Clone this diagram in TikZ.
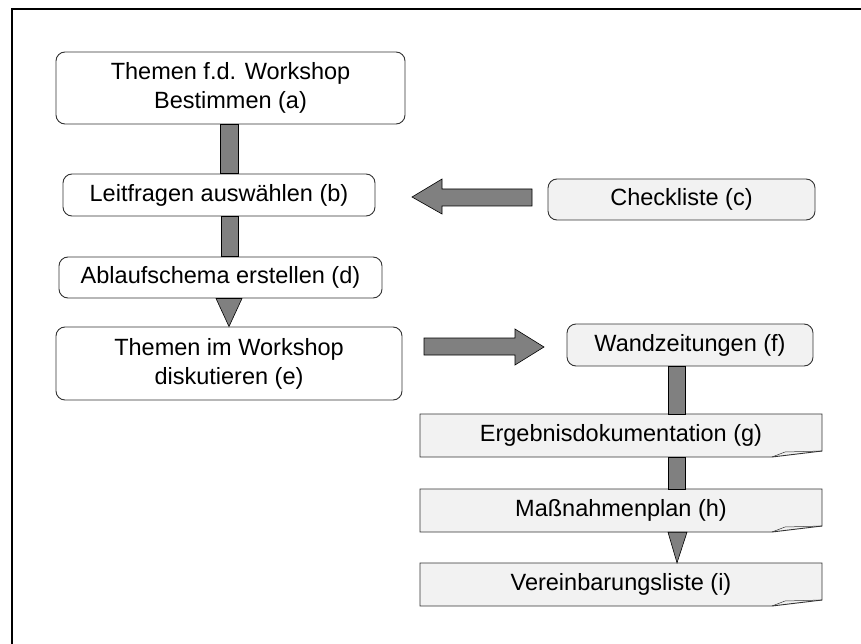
\documentclass[tikz,border=0pt]{standalone}
\usepackage{fontspec}
\setmainfont{Liberation Sans}
\usetikzlibrary{calc}
\definecolor{bargray}{HTML}{808080}
\definecolor{lightfill}{HTML}{F2F2F2}
\definecolor{edgecol}{HTML}{333333}
\newcommand{\boxfont}{\fontsize{23.5}{29}\selectfont}
\begin{document}
\begin{tikzpicture}[x=1pt,y=-1pt,
  roundbox/.style={draw=edgecol, line width=0.9pt, rounded corners=9pt, align=center, inner sep=0pt, font=\boxfont},
  whitebox/.style={roundbox, fill=white},
  greybox/.style={roundbox, fill=lightfill},
  docbox/.style={inner sep=0pt, font=\boxfont, minimum width=402pt, minimum height=43pt},
  docshape/.style={draw=edgecol, line width=0.9pt, fill=lightfill},
  barstyle/.style={draw=black, line width=0.6pt, fill=bargray},
  framestyle/.style={draw=black, line width=2pt}
]
\useasboundingbox (0,0) rectangle (861,644);
% frame (only top and left edges visible)
\coordinate (fbl) at (12,645);
\coordinate (ftl) at (12,9.5);
\coordinate (ftr) at (862,9.5);
\draw[framestyle] (fbl) -- (ftl) -- (ftr);

% left column
\node[whitebox, minimum width=349pt, minimum height=72pt] (a) at (230.5,88) {Themen f.d. Workshop\\Bestimmen (a)};
\node[whitebox, minimum width=312pt, minimum height=42pt] (b) at (219,195) {Leitfragen auswählen (b)};
\node[whitebox, minimum width=323pt, minimum height=41pt] (d) at (220.5,277.5) {Ablaufschema erstellen (d)};
\node[whitebox, minimum width=346pt, minimum height=73pt] (e) at (229,363.5) {Themen im Workshop\\diskutieren (e)};

% right column
\node[greybox, minimum width=267pt, minimum height=41pt] (c) at (681.5,199.5) {Checkliste (c)};
\node[greybox, minimum width=246pt, minimum height=42pt] (f) at (690,345) {Wandzeitungen (f)};

% document-shaped boxes
\foreach \nm/\yc/\txt in {g/435.5/Ergebnisdokumentation (g), h/510.5/Maßnahmenplan (h), i/584.5/Vereinbarungsliste (i)}{
  \path[docshape] (621-201,\yc-21.5) -- (621+201,\yc-21.5) -- (621+201,\yc+15.5) -- (621+151,\yc+21.5) -- (621-201,\yc+21.5) -- cycle;
  \draw[edgecol, line width=0.5pt] (621+151,\yc+21.5) -- (621+164,\yc+16.5) -- (621+201,\yc+15.5);
  \node[docbox] (\nm) at (621,\yc) {\txt};
}

% connectors: bars
\draw[barstyle] (220,0 |- a.south) rectangle (238,0 |- b.north);
\draw[barstyle] (221,0 |- b.south) rectangle (238,0 |- d.north);
\draw[barstyle] (216,0 |- d.south) -- (242,0 |- d.south) -- (229,0 |- e.north) -- cycle;
\draw[barstyle] (668,0 |- f.south) rectangle (685,0 |- g.north);
\draw[barstyle] (668,0 |- g.south) rectangle (685,0 |- h.north);
\draw[barstyle] (668,0 |- h.south) -- (687,0 |- h.south) -- (677,0 |- i.north) -- cycle;

% block arrows
\coordinate (cbtip) at (412,197);
\draw[barstyle] (cbtip) -- (442,179) -- (442,189) -- (532,189) -- (532,206) -- (442,206) -- (442,214) -- cycle;
\coordinate (eftip) at (544,347);
\draw[barstyle] (eftip) -- (515,329) -- (515,338) -- (424,338) -- (424,355) -- (515,355) -- (515,365) -- cycle;
\end{tikzpicture}
\end{document}
